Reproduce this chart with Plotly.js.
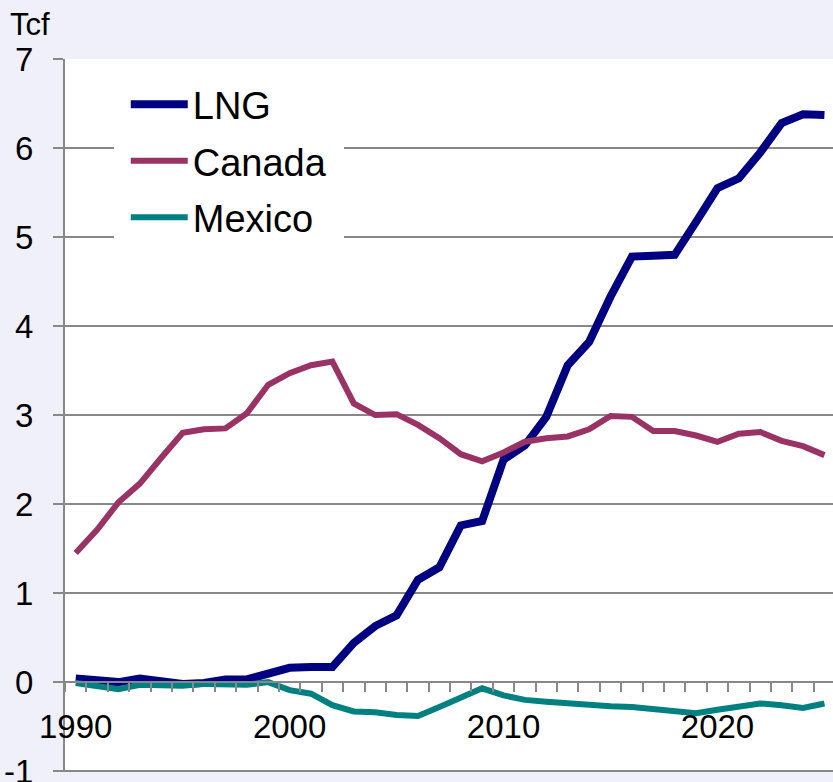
<!DOCTYPE html>
<html><head><meta charset="utf-8">
<script src="https://cdn.plot.ly/plotly-3.0.1.min.js"></script>
<style>html,body{margin:0;padding:0;background:#f0f0fb}</style>
</head><body><div id="chart" style="width:833px;height:782px"></div>
<script>
const years = [1990,1991,1992,1993,1994,1995,1996,1997,1998,1999,
  2000,2001,2002,2003,2004,2005,2006,2007,2008,2009,
  2010,2011,2012,2013,2014,2015,2016,2017,2018,2019,
  2020,2021,2022,2023,2024,2025];
const lng = [0.04,0.02,0.00,0.04,0.00,-0.02,-0.01,0.03,0.03,0.10,
  0.16,0.17,0.17,0.44,0.63,0.75,1.15,1.29,1.76,1.81,
  2.50,2.66,2.98,3.56,3.82,4.33,4.78,4.79,4.80,5.17,
  5.55,5.66,5.95,6.28,6.38,6.37];
const canada = [1.45,1.71,2.02,2.23,2.52,2.80,2.84,2.85,3.02,3.34,
  3.47,3.56,3.60,3.13,3.00,3.01,2.89,2.74,2.56,2.48,
  2.58,2.70,2.74,2.76,2.84,2.99,2.98,2.82,2.82,2.77,
  2.70,2.79,2.81,2.71,2.65,2.55];
const mexico = [-0.01,-0.05,-0.08,-0.03,-0.03,-0.04,-0.02,-0.02,-0.03,0.00,
  -0.09,-0.13,-0.26,-0.33,-0.34,-0.37,-0.38,-0.28,-0.18,-0.07,
  -0.15,-0.20,-0.22,-0.24,-0.26,-0.27,-0.28,-0.30,-0.32,-0.35,
  -0.31,-0.28,-0.24,-0.26,-0.29,-0.24];
const seriesNames = ['LNG','Canada','Mexico'];
const seriesColors = ['#000080','#993366','#008080'];
const seriesWidths = [8,6,6];
const xTickVals = [1990,2000,2010,2020];
const xTickText = ['1990','2000','2010','2020'];
const yTickVals = [-1,0,1,2,3,4,5,6,7];
const yTickText = ['-1','0','1','2','3','4','5','6','7'];
const unitLabel = 'Tcf';

const seriesValues = [lng, canada, mexico];
const traces = seriesValues.map((vals, i) => ({
  type: 'scatter', mode: 'lines', x: years, y: vals, name: seriesNames[i],
  legendgroup: 'g' + i,
  line: {color: seriesColors[i], width: seriesWidths[i]},
  hoverinfo: 'skip'
}));

const grey = '#888888';
const layout = {
  width: 833, height: 782,
  margin: {l: 65, r: 0, t: 59, b: 10, pad: 0},
  paper_bgcolor: '#f0f0fb', plot_bgcolor: '#ffffff',
  font: {family: 'Liberation Sans, Arial, sans-serif', color: '#000000', size: 33},
  showlegend: true,
  legend: {x: 0.0635, y: 0.997, xanchor: 'left', yanchor: 'top', bgcolor: '#ffffff',
    bordercolor: '#ffffff', borderwidth: 12, font: {size: 38, color: '#000000'},
    tracegroupgap: 4, itemwidth: 57},
  xaxis: {range: [1989.5, 2025.4], anchor: 'free', position: 0.1262,
    showline: true, linecolor: grey, linewidth: 2, showgrid: false, zeroline: false,
    tickmode: 'array', tickvals: xTickVals, ticktext: xTickText, ticks: '',
    ticklabelstandoff: 15, tickfont: {size: 33},
    minor: {ticks: 'outside', tickmode: 'linear', tick0: 1989.5, dtick: 1, ticklen: 9,
      tickcolor: grey, tickwidth: 2, showgrid: false}},
  yaxis: {range: [-1.01, 7], tickmode: 'array', tickvals: yTickVals, ticktext: yTickText,
    showgrid: true, gridcolor: grey, gridwidth: 2, zeroline: false,
    showline: true, linecolor: grey, linewidth: 2, ticks: 'outside', ticklen: 10,
    tickcolor: grey, tickwidth: 2, ticklabelstandoff: 13, tickfont: {size: 33},
    ticklabeloverflow: 'allow'},
  shapes: [{type: 'line', xref: 'paper', x0: 0, x1: 1, yref: 'y',
    y0: yTickVals[0], y1: yTickVals[0], line: {color: grey, width: 2}, layer: 'below'}],
  annotations: [{text: unitLabel, xref: 'paper', yref: 'paper', x: -0.0745, y: 1.076,
    xanchor: 'left', yanchor: 'top', showarrow: false, font: {size: 31}}]
};
Plotly.newPlot('chart', traces, layout, {displayModeBar: false, staticPlot: true});
</script></body></html>
